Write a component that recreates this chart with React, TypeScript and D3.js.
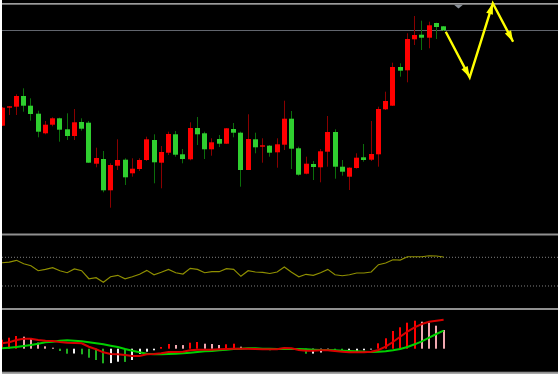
import * as d3 from 'd3'

// price bars, in points (index = bar number)
const opens = [108.3, 126.3, 127.3, 138, 128.3, 120.3, 100.7, 109.3, 115.7, 104.7, 98, 112, 111.3, 70.3, 75, 43.7, 68.3, 74.3, 60.7, 65, 74, 94, 71.3, 81.3, 99.7, 79.7, 74.7, 106, 100.7, 84.7, 95, 90.3, 105, 101.3, 64, 94.7, 87.3, 88.3, 81.7, 89.3, 115.3, 85.7, 60.3, 70, 66.7, 82.3, 102, 67.3, 57.3, 66, 76.7, 74.3, 79.7, 124.7, 128.3, 167, 163.7, 194.7, 199.3, 196.3, 211, 207.7]
const highs = [127, 128, 139.7, 145.7, 135.7, 123.3, 113, 116.7, 116.3, 120.7, 125, 115.7, 113, 86.3, 83, 70.7, 94.7, 75.7, 75.7, 75.7, 97.3, 99.7, 88, 102.3, 103, 85, 111.7, 117, 102.3, 95.7, 99, 106, 111, 102.3, 119.7, 101.3, 95.7, 89, 95.7, 133.3, 123, 87.3, 77.3, 73, 85, 118, 104.7, 74, 66.7, 80.7, 90, 113, 127.3, 142.3, 171.3, 170.7, 200.7, 218, 213.3, 212.3, 211.3, 208]
const lows = [108, 119, 119, 122.3, 113.3, 96.7, 99.7, 107.7, 92.3, 94, 94, 103.3, 71, 66.7, 41.7, 26.3, 64, 49, 57.3, 63, 73, 50.7, 45.7, 79, 77.3, 70.7, 73.7, 89, 75, 78.3, 87, 90, 96.7, 47.3, 64, 80.7, 71.3, 77.3, 66.3, 84, 65, 58.3, 59.7, 54, 51.7, 67.3, 55.3, 58.3, 44, 65.3, 72.3, 73, 67.3, 124, 128, 157.3, 151.7, 189, 184, 185.7, 195, 203]
const closes = [126.3, 127.7, 138, 128.3, 120, 102.3, 109.3, 115.7, 104.3, 98, 111.7, 105.3, 71.3, 76, 43.7, 69, 74, 56.7, 65.3, 74, 94.7, 71.7, 82, 100, 79.3, 75, 106, 99.7, 84.7, 91.7, 90.3, 105.7, 101.3, 64, 95, 86.7, 88.7, 81.3, 89.7, 115.3, 85.3, 59.3, 70.3, 67, 82.7, 102, 67.3, 62.3, 66.3, 76.3, 74, 80, 125, 133, 167, 163.3, 195, 199, 196.3, 208.7, 207, 203.7]
const currentPrice = 203.7

// projected zigzag (bar position, price)
const zigBars = [61.3, 64.6, 67.8, 70.6]
const zigPrices = [202.3, 156.7, 230.7, 192.3]

// oscillator
const rsi = [62.4, 63.4, 65.8, 61.0, 58.3, 51.3, 53.2, 55.5, 51.3, 48.5, 53.7, 51.3, 40.1, 41.5, 35.1, 42.9, 44.9, 40.1, 42.9, 46.3, 51.8, 45.7, 49.1, 53.2, 48.5, 46.7, 54.6, 53.2, 48.5, 49.9, 49.9, 54.1, 53.2, 43.5, 51.3, 49.5, 49.1, 47.4, 49.5, 56.4, 49.1, 42.9, 46.3, 44.9, 48.5, 53.2, 45.7, 44.3, 45.7, 48.1, 48.1, 49.5, 59.7, 62.0, 66.6, 66.2, 70.8, 70.8, 70.8, 72.2, 71.8, 70.4]
const rsiLevels = [70, 30]

// macd panel
const macdLine = [5.4, 6.4, 8.7, 10, 10, 8.7, 8, 7.7, 6.7, 6, 5.7, 5.4, 2, -0.6, -3.6, -5.3, -5.6, -6.3, -7.3, -7.3, -5.6, -5.3, -4.6, -3.3, -3.3, -3, -1.6, -1, -1, -1, -0.6, -0.3, 0, 0, 0, -0.3, -0.6, -0.6, -0.5, 0.7, 0.4, -1.3, -2, -2, -1.6, -1.6, -2.3, -3, -3.6, -3.6, -3.6, -3, -1.3, 2, 6.7, 12, 17, 21.4, 24.7, 27, 28, 29]
const signalLine = [0.4, 1, 1.7, 2.7, 3.7, 5, 6.4, 7, 8, 8.4, 8, 7.4, 6.4, 5.4, 4.4, 3, 1.7, -0.3, -2, -3.6, -5, -5.6, -5.6, -5.3, -5, -4.6, -4, -3.3, -2.6, -2.3, -1.6, -1, -0.3, 0, 0.4, 0.4, 0, 0, -0.3, 0, -0.3, -0.3, -0.6, -1, -1.3, -1.3, -1.6, -2, -2.3, -2.6, -3, -3.3, -3, -2.6, -1.6, -0.3, 1.7, 4.4, 7.4, 11, 14.7, 18]
const histogram = [9, 11, 12.7, 12, 9.7, 6, 2.4, 1.0, -2.3, -5.0, -4.8, -5.6, -9, -11.3, -14.6, -14.4, -13, -13.2, -11.3, -5.3, -3, -1.6, 1.7, 4.7, 3.7, 3.6, 6, 6.7, 5, 4.7, 3.7, 4.4, 5, 2, 0.6, -0.4, -0.9, -1.6, -1.3, -0.5, -1.0, -1.8, -5.0, -4.9, -3.8, -1.5, -3.0, -3.3, -3.2, -2.9, -1.6, -0.5, 5.4, 10.4, 17.7, 21.4, 26, 28, 27, 26, 23, 18.7]

function histColor(i: number) {
  const v = histogram[i]
  const prev = i > 0 ? histogram[i - 1] : v
  if (v >= 0) return v >= prev ? '#ff0000' : '#f0a8b0'
  return v <= prev ? '#1fae1f' : '#f2f2f2'
}

function arrowHead(x1: number, y1: number, x2: number, y2: number, len = 11, half = 3.5) {
  const dx = x2 - x1
  const dy = y2 - y1
  const L = Math.hypot(dx, dy)
  const ux = dx / L
  const uy = dy / L
  const bx = x2 - ux * len
  const by = y2 - uy * len
  return `M${x2},${y2}L${bx - uy * half},${by + ux * half}L${bx + uy * half},${by - ux * half}Z`
}

export default function App() {
  const width = 558
  const height = 375
  const left = 2

  const x = d3.scaleLinear().domain([0, 61]).range([2, 443.6])
  const yP = d3.scaleLinear().domain([0, 230]).range([234, 4])
  const yR = d3.scaleLinear().domain([0, 100]).range([307.5, 235.8])
  const yM = d3.scaleLinear().domain([-20, 30]).range([368.7, 318.7])

  const rsiPath = d3
    .line<number>()
    .x((_, i) => x(i))
    .y((d) => yR(d))(rsi)
  const macdPath = d3
    .line<number>()
    .x((_, i) => x(i))
    .y((d) => yM(d))
  const zigPts = zigBars.map((b, i) => [x(b), yP(zigPrices[i])] as [number, number])
  const zigPath = d3.line()(zigPts)

  return (
    <svg
      width={width}
      height={height}
      style={{ position: 'absolute', left: 0, top: 0, display: 'block' }}
    >
      <defs>
        <clipPath id="main">
          <rect x={left} y={4.7} width={width - left} height={229} />
        </clipPath>
        <clipPath id="sub">
          <rect x={left} y={235.5} width={width - left} height={136} />
        </clipPath>
      </defs>
      <rect width={width} height={height} fill="#ffffff" />
      <rect x={left} y={0} width={width - left} height={373.3} fill="#000000" />

      {/* panel frames */}
      <rect x={left} y={3} width={width - left} height={1.7} fill="#9c9c9c" />
      <rect x={left} y={233.5} width={width - left} height={2} fill="#909090" />
      <rect x={left} y={308} width={width - left} height={2} fill="#909090" />
      <rect x={left} y={371.7} width={width - left} height={1.6} fill="#909090" />

      {/* current price line */}
      <line x1={left} x2={width} y1={Math.round(yP(currentPrice)) + 0.5} y2={Math.round(yP(currentPrice)) + 0.5} stroke="#62666e" strokeWidth={1.2} />
      <polygon points="454,4.7 463,4.7 458.5,8.6" fill="#8a9098" />

      {/* candles */}
      <g clipPath="url(#main)">
        {opens.map((o, i) => {
          const c = closes[i]
          const up = c >= o
          const cx = Math.floor(x(i))
          const top = yP(Math.max(o, c))
          const bot = yP(Math.min(o, c))
          return (
            <g key={i}>
              <line
                x1={cx + 0.5}
                x2={cx + 0.5}
                y1={yP(highs[i])}
                y2={yP(lows[i])}
                stroke={up ? '#8a0000' : '#0b6e0b'}
                strokeWidth={1}
              />
              <rect
                x={cx - 2}
                y={top}
                width={5}
                height={Math.max(1.3, bot - top)}
                fill={up ? '#ff0000' : '#2fcf2f'}
              />
            </g>
          )
        })}
      </g>

      {/* zigzag projection */}
      <path d={zigPath ?? ''} fill="none" stroke="#ffff00" strokeWidth={2.4} strokeLinejoin="miter" />
      {zigPts.slice(1).map((p, i) => (
        <path key={i} d={arrowHead(zigPts[i][0], zigPts[i][1], p[0], p[1])} fill="#ffff00" />
      ))}

      <g clipPath="url(#sub)">
        {/* oscillator */}
        {rsiLevels.map((lv) => (
          <line
            key={lv}
            x1={left}
            x2={width}
            y1={yR(lv)}
            y2={yR(lv)}
            stroke="#808080"
            strokeWidth={1}
            strokeDasharray="1,2"
          />
        ))}
        <path d={rsiPath ?? ''} fill="none" stroke="#8f8f00" strokeWidth={1.2} />

        {/* macd histogram */}
        {histogram.map((v, i) => {
          const cx = Math.round(x(i))
          const y0 = yM(0)
          const y1 = yM(v)
          return (
            <rect
              key={i}
              x={cx - 1}
              y={Math.min(y0, y1)}
              width={2}
              height={Math.max(0.8, Math.abs(y1 - y0))}
              fill={histColor(i)}
            />
          )
        })}
        <path d={macdPath(signalLine) ?? ''} fill="none" stroke="#00d000" strokeWidth={2} />
        <path d={macdPath(macdLine) ?? ''} fill="none" stroke="#d80000" strokeWidth={2} />
      </g>
    </svg>
  )
}
